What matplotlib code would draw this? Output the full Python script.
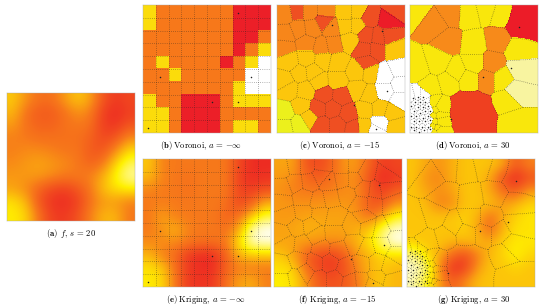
import numpy as np
import matplotlib
matplotlib.use("Agg")
import matplotlib.pyplot as plt
from matplotlib.colors import ListedColormap, LinearSegmentedColormap

plt.rcParams['mathtext.fontset'] = 'cm'

# colour classes: 0 white, 1 yellow, 2 gold, 3 orange, 4 red-orange, 5 red
class_colors = ['#ffffff', '#ecf01c', '#fcc60c', '#f7861a', '#ef4f22', '#ec1c28']
b_colors = ['#ffffff', '#fbdc0b', '#fcc60c', '#f7781a', '#ef4f22', '#ec1f28']
d_colors = ['#ffffff', '#f9e70c', '#f8f4a0', '#f78a1a', '#ef4020', '#ec1c28']
heat = LinearSegmentedColormap.from_list('heat', [(0, '#ec1f24'), (.33, '#f7791a'), (.66, '#fff000'), (1, '#ffffff')])

# (a) field, read on a 10x10 grid
field_a = [[.55, .40, .30, .30, .42, .55, .45, .20, .10, .15],
           [.50, .30, .22, .22, .30, .40, .35, .12, .05, .12],
           [.42, .30, .25, .25, .30, .33, .30, .12, .08, .20],
           [.35, .33, .30, .30, .30, .30, .25, .15, .20, .38],
           [.35, .38, .38, .35, .32, .32, .22, .20, .38, .60],
           [.38, .42, .45, .42, .38, .33, .25, .32, .58, .78],
           [.42, .42, .42, .38, .33, .33, .35, .48, .68, .88],
           [.45, .38, .25, .15, .12, .20, .32, .52, .62, .65],
           [.62, .50, .20, .08, .05, .12, .30, .42, .42, .35],
           [.65, .58, .30, .12, .10, .18, .35, .50, .50, .32]]

# (b) classes: 0 white, 1 yellow, 3 orange, 5 red
cells_b = [[1, 3, 3, 3, 3, 3, 3, 5, 5, 5],
           [1, 3, 3, 3, 3, 3, 3, 5, 5, 5],
           [3, 3, 3, 3, 3, 3, 3, 5, 5, 3],
           [3, 3, 3, 3, 3, 3, 3, 5, 3, 1],
           [3, 1, 3, 3, 3, 3, 5, 3, 1, 0],
           [3, 3, 1, 3, 3, 3, 3, 3, 0, 0],
           [3, 3, 3, 3, 3, 3, 3, 1, 0, 0],
           [1, 3, 3, 5, 5, 5, 3, 1, 1, 1],
           [1, 1, 3, 5, 5, 5, 3, 3, 3, 3],
           [1, 1, 3, 5, 5, 5, 3, 1, 1, 3]]
sites_b = [(.74, .06), (.84, .56), (.13, .56), (.54, .76), (.74, .76), (.04, .96)]

# (e) field
field_e = [[.55, .35, .33, .33, .33, .33, .33, .15, .05, .05],
           [.50, .35, .33, .30, .33, .33, .33, .12, .05, .08],
           [.35, .33, .33, .30, .33, .33, .33, .15, .12, .20],
           [.33, .35, .33, .33, .33, .33, .30, .15, .25, .50],
           [.33, .45, .35, .33, .33, .33, .25, .30, .55, .75],
           [.33, .40, .50, .35, .33, .33, .30, .45, .90, 1.0],
           [.38, .38, .38, .33, .30, .30, .33, .62, .92, .95],
           [.50, .35, .28, .10, .05, .05, .25, .50, .55, .55],
           [.62, .55, .30, .10, .05, .05, .25, .33, .33, .33],
           [.65, .60, .33, .10, .08, .10, .30, .45, .48, .35]]

# (f) field
field_f = [[.45, .45, .20, .15, .25, .42, .42, .25, .10, .15],
           [.42, .38, .28, .22, .30, .38, .38, .18, .03, .10],
           [.40, .35, .33, .33, .35, .38, .40, .22, .12, .25],
           [.42, .40, .40, .40, .42, .42, .38, .20, .22, .40],
           [.42, .42, .45, .45, .45, .45, .42, .30, .45, .70],
           [.45, .45, .50, .48, .45, .45, .48, .55, .80, .95],
           [.45, .45, .42, .40, .38, .40, .50, .62, .85, .98],
           [.55, .45, .25, .15, .12, .22, .42, .50, .60, .60],
           [.62, .58, .30, .15, .10, .18, .38, .50, .55, .50],
           [.66, .62, .42, .22, .18, .22, .32, .50, .55, .50]]

# (g) field
field_g = [[.54, .46, .40, .48, .54, .54, .54, .46, .22, .36],
           [.54, .40, .36, .48, .54, .54, .46, .18, .02, .18],
           [.54, .46, .40, .44, .54, .54, .46, .30, .22, .44],
           [.54, .52, .34, .38, .54, .54, .54, .42, .50, .58],
           [.54, .54, .54, .54, .58, .50, .28, .48, .58, .64],
           [.54, .54, .54, .54, .58, .46, .26, .50, .62, .62],
           [.56, .54, .54, .50, .50, .54, .46, .58, .64, .64],
           [.85, .60, .48, .28, .16, .34, .52, .58, .68, .58],
           [.95, .85, .40, .06, .10, .42, .54, .54, .58, .54],
           [.90, .70, .45, .22, .38, .52, .54, .54, .54, .54]]

# (c) voronoi sites as fractions of the panel, with their class
seeds_c = [(.06, .07), (.16, .05), (.25, .05), (.37, .13), (.07, .23), (.17, .19), (.06, .33), (.27, .18),
           (.23, .30), (.35, .33), (.43, .18), (.44, .31), (.38, .05), (.53, .05), (.63, .05), (.53, .16),
           (.62, .16), (.57, .28), (.72, .10), (.70, .24), (.79, .25), (.68, .35), (.77, .35), (.70, .45),
           (.87, .13), (.88, .24), (.93, .04), (.92, .35), (.84, .55), (.95, .50), (.84, .67), (.96, .62),
           (.96, .74), (.77, .98), (.10, .44), (.23, .42), (.36, .43), (.47, .45), (.62, .52), (.73, .53),
           (.06, .59), (.18, .53), (.28, .52), (.47, .59), (.10, .66), (.22, .67), (.33, .60), (.63, .66),
           (.72, .70), (.06, .84), (.06, .95), (.17, .93), (.19, .79), (.25, .88), (.37, .70), (.50, .71),
           (.32, .81), (.43, .81), (.56, .85), (.35, .94), (.47, .94), (.60, .96), (.69, .82), (.80, .81),
           (.90, .84), (.68, .95), (.80, .92), (.93, .95)]
class_c = [3, 4, 3, 4, 3, 3, 3, 3,
           3, 3, 3, 3, 3, 2, 2, 2,
           2, 2, 4, 4, 4, 4, 4, 4,
           5, 4, 4, 2, 0, 0, 0, 0,
           0, 0, 2, 2, 2, 2, 2, 2,
           2, 2, 2, 2, 2, 2, 2, 2,
           2, 1, 1, 1, 2, 2, 4, 4,
           4, 4, 4, 4, 4, 4, 2, 2,
           2, 2, 0, 2]

# (d) large cells, their class and a distance factor (below 1 gives a bigger, rounder cell)
seeds_d = [(.04, .03), (.20, .15), (.32, .07), (.30, .28), (.46, .08), (.60, .05), (.70, .08), (.87, .14),
           (.50, .30), (.68, .27), (.85, .36), (.50, .46), (.64, .46), (.60, .58),
           (.86, .50), (.82, .68), (.72, .58), (.06, .50), (.22, .45), (.36, .52), (.30, .60), (.16, .64),
           (.46, .58), (.46, .84), (.76, .74), (.82, .92)]
class_d = [1, 3, 3, 3, 1, 1, 1, 5,
           1, 3, 1, 1, 3, 3,
           2, 2, 1, 1, 1, 1, 1, 1,
           1, 4, 1, 1]
factor_d = [1, 1, 1, 1, 1, 1, 1, .8,
            1, 1, 1, 1, 1, 1,
            1, 1, 1, 1, 1, 1, 1, 1,
            1, .6, 1, 1]

# (d) tiny cells in the lower left corner
white_d = [(.02, .73), (.06, .72), (.10, .72), (.04, .76), (.08, .76), (.12, .76), (.01, .79), (.06, .80),
           (.10, .80), (.14, .79), (.03, .83), (.08, .84), (.12, .83), (.16, .83), (.01, .87), (.05, .87),
           (.10, .88), (.14, .87), (.03, .91), (.07, .91), (.12, .91), (.16, .90), (.01, .95), (.05, .95),
           (.09, .95), (.14, .95), (.03, .98), (.07, .99), (.11, .98), (.16, .97)]
band_d = [(.18, .77), (.20, .82), (.18, .86), (.22, .86), (.19, .91), (.23, .91), (.18, .95), (.21, .96),
          (.23, .80), (.19, .99), (.23, .98)]

sites_c = [(.43, .16), (.82, .20), (.77, .97), (.60, .78), (.86, .67)]
sites_d = [(.85, .17), (.79, .49), (.57, .56), (.32, .89)]

captions = {'a': r'$\mathbf{(a)}\;\,f,\,s\,=\,20$',
            'b': r'$\mathbf{(b)}\;\mathrm{Voronoi,}\,a\,=\,{-}\infty$',
            'c': r'$\mathbf{(c)}\;\mathrm{Voronoi,}\,a\,=\,{-}15$',
            'd': r'$\mathbf{(d)}\;\mathrm{Voronoi,}\,a\,=\,30$',
            'e': r'$\mathbf{(e)}\;\mathrm{Kriging,}\,a\,=\,{-}\infty$',
            'f': r'$\mathbf{(f)}\;\mathrm{Kriging,}\,a\,=\,{-}15$',
            'g': r'$\mathbf{(g)}\;\mathrm{Kriging,}\,a\,=\,30$'}

W, H = 540, 308
DOTTED = (0, (1, 2.4))
fig = plt.figure(figsize=(W / 100, H / 100), dpi=100)


def panel(x0, y0, key, cap_x, cap_y):
    # panel position in image pixels, 128 px wide
    ax = fig.add_axes([x0 / W, 1 - (y0 + 128) / H, 128 / W, 128 / H])
    ax.set_xlim(0, 1)
    ax.set_ylim(1, 0)
    ax.set_xticks([])
    ax.set_yticks([])
    for s in ax.spines.values():
        s.set_linewidth(.3)
        s.set_color('#aaaaaa')
    fig.text(cap_x / W, 1 - cap_y / H, captions[key], fontsize=6.2, ha='center', va='center')
    return ax


def show_field(ax, field):
    ax.imshow(field, cmap=heat, vmin=0, vmax=1, extent=(0, 1, 1, 0), interpolation='bicubic', aspect='auto')


def show_classes(ax, classes, colors):
    ax.imshow(classes, cmap=ListedColormap(colors), vmin=0, vmax=5, extent=(0, 1, 1, 0),
              interpolation='nearest', aspect='auto')


def nearest_labels(seeds, factors=None, n=320):
    g = (np.arange(n) + .5) / n
    X, Y = np.meshgrid(g, g)
    pts = np.array(seeds)
    f = np.ones(len(pts)) if factors is None else np.array(factors)
    dist = np.hypot(X[..., None] - pts[:, 0], Y[..., None] - pts[:, 1]) * f
    return X, Y, dist.argmin(axis=2)


def cell_lines(ax, X, Y, labels):
    # one contour per pair of touching cells, so each edge is dotted only once
    a = np.concatenate([labels[:-1, :].ravel(), labels[:, :-1].ravel()])
    b = np.concatenate([labels[1:, :].ravel(), labels[:, 1:].ravel()])
    keep = a != b
    pairs = {(min(i, j), max(i, j)) for i, j in zip(a[keep].tolist(), b[keep].tolist())}
    for i, j in sorted(pairs):
        z = np.ma.masked_where((labels != i) & (labels != j), (labels == i).astype(float))
        ax.contour(X, Y, z, levels=[.5], colors='#222222', linewidths=.45, linestyles=[DOTTED], alpha=.85)


def grid_lines(ax):
    pos = np.arange(1, 10) / 10
    ax.vlines(pos, 0, 1, colors='#222222', linewidth=.45, linestyles=[DOTTED], alpha=.8)
    ax.hlines(pos, 0, 1, colors='#222222', linewidth=.45, linestyles=[DOTTED], alpha=.8)


def dots(ax, sites):
    xs, ys = zip(*sites)
    ax.scatter(xs, ys, s=1.2, c='#222222', linewidths=0, zorder=5)


all_d = seeds_d + white_d + band_d
all_class_d = class_d + [0] * len(white_d) + [1] * len(band_d)
all_factor_d = factor_d + [1] * (len(white_d) + len(band_d))
Xc, Yc, lab_c = nearest_labels(seeds_c)
Xd, Yd, lab_d = nearest_labels(all_d, all_factor_d)

ax = panel(7, 93, 'a', 71, 234)
show_field(ax, field_a)

ax = panel(143, 5, 'b', 201, 146)
show_classes(ax, cells_b, b_colors)
grid_lines(ax)
dots(ax, sites_b)

ax = panel(277, 5, 'c', 340, 146)
show_classes(ax, np.array(class_c)[lab_c], class_colors)
cell_lines(ax, Xc, Yc, lab_c)
dots(ax, sites_c)

ax = panel(410, 5, 'd', 473, 146)
show_classes(ax, np.array(all_class_d)[lab_d], d_colors)
cell_lines(ax, Xd, Yd, lab_d)
dots(ax, sites_d + white_d)

ax = panel(143, 159, 'e', 206, 300)
show_field(ax, field_e)
grid_lines(ax)
dots(ax, sites_b)

ax = panel(274, 159, 'f', 337, 300)
show_field(ax, field_f)
cell_lines(ax, Xc, Yc, lab_c)
dots(ax, sites_c)

ax = panel(407, 159, 'g', 474, 300)
show_field(ax, field_g)
cell_lines(ax, Xd, Yd, lab_d)
dots(ax, sites_d + white_d)

fig.savefig('out.png', dpi=100)
